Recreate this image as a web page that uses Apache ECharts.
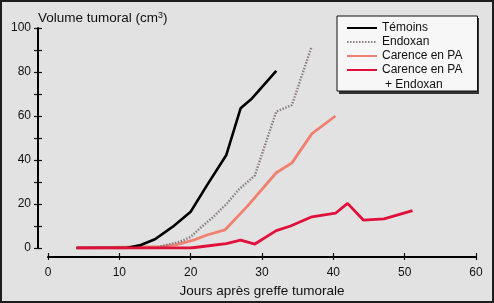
<!DOCTYPE html>
<html><head><meta charset="utf-8">
<script src="https://cdn.jsdelivr.net/npm/echarts@6/dist/echarts.min.js"></script>
<style>html,body{margin:0;padding:0;}#c{width:494px;height:303px;}</style>
</head><body><div id="c"></div>
<script>
// Data
const temoinsDays   = [4, 11, 13, 15, 17.5, 20, 22.3, 25, 27, 28.6, 32];
const temoinsVals   = [0, 0, 1.4, 4, 9.7, 16.5, 28.6, 42.3, 63.5, 68, 80.5];
const endoxanDays   = [4, 15, 18.5, 20, 21.3, 23.2, 25.1, 26.7, 29, 32, 34.2, 36.9];
const endoxanVals   = [0, 0, 2.9, 5, 9, 14.2, 20.3, 26.4, 33, 62, 65, 91];
const carenceDays   = [4, 15.7, 18, 20.4, 22.3, 24.8, 27.9, 32, 34.2, 37, 40.3];
const carenceVals   = [0, 0.6, 1.5, 3.6, 5.9, 8.2, 18.8, 34.2, 38.7, 52, 60];
const combiDays     = [4, 20, 22, 25, 27, 29, 32, 34, 37, 40.3, 42, 44.2, 47.1, 51.1];
const combiVals     = [0, 0, 0.8, 2, 3.6, 1.8, 7.9, 10, 14.2, 15.8, 20.3, 12.7, 13.2, 17];
const seriesNames   = ['Témoins', 'Endoxan', 'Carence en PA', 'Carence en PA + Endoxan'];
const legendLines   = {'Carence en PA + Endoxan': ['Carence en PA', '+ Endoxan']};
const xTicks = [0, 10, 20, 30, 40, 50, 60];
const yTicks = [0, 20, 40, 60, 80, 100];

const GRID = {left: 48, right: 18, top: 28, bottom: 55};
const LEGEND_BOX = {left: 337, top: 16, width: 140, height: 76};
const X_OFFSET = 9, Y_OFFSET = 10;
const pairs = (d, v) => d.map((x, i) => [x, v[i]]);
const lbl = () => ({fontFamily: 'Liberation Sans', fontSize: 12, color: '#111'});
const tickStyle = () => ({color: '#111', width: 1.2});

function xAxisDef(main) {
  const a = {
    type: 'value', min: 0, max: 60, interval: 10, offset: X_OFFSET, position: 'bottom',
    splitLine: {show: false},
    axisLine: {show: main, onZero: false, lineStyle: {color: '#000', width: 2}},
    axisTick: {show: true, inside: !main, length: main ? 3 : 4, lineStyle: tickStyle()},
    axisLabel: main ? Object.assign({margin: 10, formatter: v => xTicks.includes(v) ? String(v) : ''}, lbl()) : {show: false}
  };
  if (main) {
    a.name = 'Jours après greffe tumorale';
    a.nameLocation = 'middle';
    a.nameGap = 25;
    a.nameTextStyle = {fontFamily: 'Liberation Sans', fontSize: 13.5, color: '#111'};
  }
  return a;
}
function yAxisDef(main) {
  const a = {
    type: 'value', min: 0, max: 100, interval: 10, offset: Y_OFFSET, position: 'left',
    splitLine: {show: false},
    axisLine: {show: main, onZero: false, lineStyle: {color: '#000', width: 2}},
    axisTick: {show: true, inside: !main, length: 4, lineStyle: tickStyle()},
    axisLabel: main ? Object.assign({margin: 7, formatter: v => yTicks.includes(v) ? String(v) : ''}, lbl()) : {show: false}
  };
  if (main) {
    a.name = 'Volume tumoral (cm{sup|3})';
    a.nameLocation = 'end';
    a.nameGap = 2;
    a.nameTextStyle = {fontFamily: 'Liberation Sans', fontSize: 13.5, color: '#111', align: 'left',
      rich: {sup: {fontFamily: 'Liberation Sans', fontSize: 9, color: '#111', verticalAlign: 'top', padding: [0, 0, 6, 0]}}};
  }
  return a;
}

const el = document.getElementById('c');
const chart = echarts.init(el, null, {renderer: 'canvas'});
const W = el.clientWidth, H = el.clientHeight;
const plotBottom = H - GRID.bottom, plotRight = W - GRID.right;
chart.setOption({
  backgroundColor: '#e2e2e2',
  animation: false,
  grid: GRID,
  graphic: [
    {type: 'rect', z: 100, silent: true,
     shape: {x: 1, y: 1, width: W - 2, height: H - 2},
     style: {fill: 'transparent', stroke: '#1e1e1e', lineWidth: 2}},
    // legend drop shadow
    {type: 'rect', z: 1, silent: true,
     shape: {x: LEGEND_BOX.left + 2, y: LEGEND_BOX.top + 2, width: LEGEND_BOX.width, height: LEGEND_BOX.height},
     style: {fill: '#333'}},
    {type: 'text', z: 100, silent: true, left: 385, top: 79,
     style: {text: legendLines[seriesNames[3]][1], fontFamily: 'Liberation Sans', fontSize: 12, fill: '#111'}},
    // axis lines (detached axes), from the grid layout and axis offsets
    {type: 'line', z: 50, silent: true,
     shape: {x1: GRID.left - Y_OFFSET, y1: GRID.top, x2: GRID.left - Y_OFFSET, y2: plotBottom},
     style: {stroke: '#000', lineWidth: 2}},
    {type: 'line', z: 50, silent: true,
     shape: {x1: GRID.left, y1: plotBottom + X_OFFSET, x2: plotRight, y2: plotBottom + X_OFFSET},
     style: {stroke: '#000', lineWidth: 2}}
  ],
  legend: {
    orient: 'vertical', left: LEGEND_BOX.left, top: LEGEND_BOX.top, z: 5,
    padding: [6, 15, 15, 9],
    itemWidth: 30, itemHeight: 14, itemGap: 2,
    backgroundColor: '#f7f7f7', borderColor: '#111', borderWidth: 1,
    itemStyle: {opacity: 0},
    textStyle: {fontFamily: 'Liberation Sans', fontSize: 12, color: '#111'},
    formatter: n => legendLines[n] ? legendLines[n][0] : n,
    data: seriesNames
  },
  xAxis: [xAxisDef(true), xAxisDef(false)],
  yAxis: [yAxisDef(true), yAxisDef(false)],
  series: [
    {name: seriesNames[0], type: 'line', symbol: 'none', z: 4,
     lineStyle: {color: '#000', width: 2.6}, itemStyle: {color: '#000'},
     data: pairs(temoinsDays, temoinsVals)},
    {name: seriesNames[1], type: 'line', symbol: 'none', z: 3,
     lineStyle: {color: '#8b7e88', width: 2.4, type: [1.5, 1.5]}, itemStyle: {color: '#8b7e88'},
     data: pairs(endoxanDays, endoxanVals)},
    {name: seriesNames[2], type: 'line', symbol: 'none', z: 2,
     lineStyle: {color: '#f0806f', width: 2.8}, itemStyle: {color: '#f0806f'},
     data: pairs(carenceDays, carenceVals)},
    {name: seriesNames[3], type: 'line', symbol: 'none', z: 5,
     lineStyle: {color: '#e0103b', width: 2.8}, itemStyle: {color: '#e0103b'},
     data: pairs(combiDays, combiVals)}
  ]
});
</script></body></html>
